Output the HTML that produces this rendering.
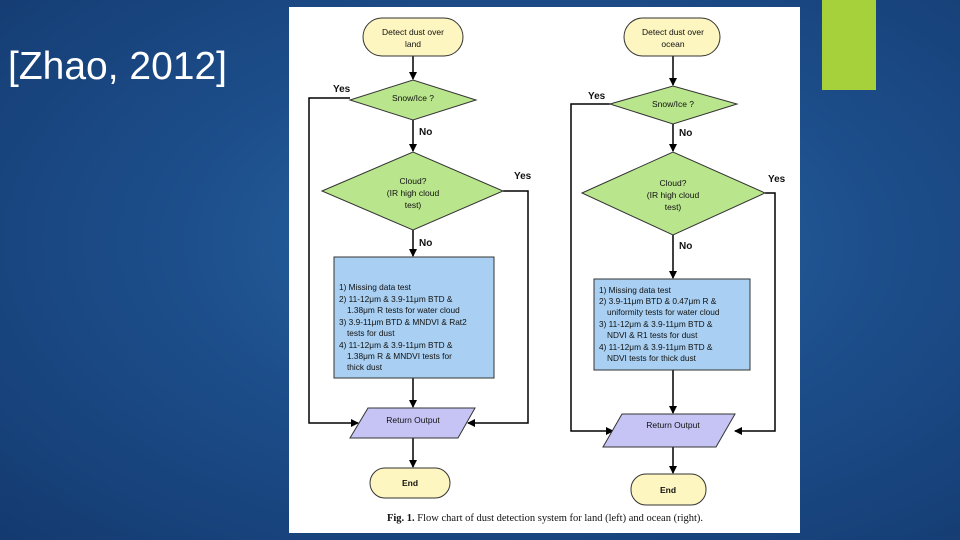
<!DOCTYPE html>
<html><head><meta charset="utf-8"><style>
html,body{margin:0;padding:0}
body{width:960px;height:540px;overflow:hidden;position:relative;
background:radial-gradient(ellipse at 55% 45%,#2a6aa8 0%,#1d4f8c 45%,#143a70 100%);font-family:"Liberation Sans",sans-serif}
.t{position:absolute;left:8px;top:45px;color:#fff;font-size:39px}
.g{position:absolute;left:822px;top:0;width:54px;height:90px;background:#a6d13b}
</style></head><body>
<div class="t">[Zhao, 2012]</div>
<div class="g"></div>
<svg width="960" height="540" style="position:absolute;left:0;top:0" font-family="Liberation Sans, sans-serif">
<defs><marker id="a" markerWidth="8" markerHeight="8" refX="7" refY="4" orient="auto" markerUnits="userSpaceOnUse"><path d="M0,0 L8,4 L0,8z" fill="#000"/></marker></defs>
<rect x="289" y="7" width="511" height="526" fill="#fff"/>
<g stroke="#000" stroke-width="1.5" fill="none">
<line x1="413" y1="56" x2="413" y2="79" marker-end="url(#a)"/>
<line x1="413" y1="120" x2="413" y2="151" marker-end="url(#a)"/>
<line x1="413" y1="230" x2="413" y2="256" marker-end="url(#a)"/>
<line x1="413" y1="378" x2="413" y2="407" marker-end="url(#a)"/>
<line x1="413" y1="438" x2="413" y2="467" marker-end="url(#a)"/>
<polyline points="350,98 309,98 309,423 358,423" marker-end="url(#a)"/>
<polyline points="503,191 528,191 528,423 468,423" marker-end="url(#a)"/>
<line x1="673" y1="56" x2="673" y2="85" marker-end="url(#a)"/>
<line x1="673" y1="124" x2="673" y2="151" marker-end="url(#a)"/>
<line x1="673" y1="235" x2="673" y2="278" marker-end="url(#a)"/>
<line x1="673" y1="370" x2="673" y2="413" marker-end="url(#a)"/>
<line x1="673" y1="447" x2="673" y2="473" marker-end="url(#a)"/>
<polyline points="610,104 571,104 571,431 613,431" marker-end="url(#a)"/>
<polyline points="765,193 775,193 775,431 735,431" marker-end="url(#a)"/>
</g>
<g stroke="#333" stroke-width="1">
<rect x="363" y="18" width="100" height="38" rx="19" fill="#fdf6c0"/>
<polygon points="350,100 413,80 476,100 413,120" fill="#b9e58c"/>
<polygon points="322,191 413,152 503,191 413,230" fill="#b9e58c"/>
<rect x="334" y="257" width="160" height="121" fill="#a9d0f2"/>
<polygon points="368,408 475,408 458,438 350,438" fill="#c6c4f4"/>
<rect x="370" y="468" width="80" height="30" rx="15" fill="#fdf6c0"/>
<rect x="624" y="18" width="96" height="38" rx="19" fill="#fdf6c0"/>
<polygon points="610,104 673,86 737,104 673,124" fill="#b9e58c"/>
<polygon points="582,193 673,152 765,193 673,235" fill="#b9e58c"/>
<rect x="594" y="279" width="156" height="91" fill="#a9d0f2"/>
<polygon points="622,414 735,414 716,447 603,447" fill="#c6c4f4"/>
<rect x="631" y="474" width="75" height="31" rx="15" fill="#fdf6c0"/>
</g>
<g font-size="8.5" fill="#111" text-anchor="middle">
<text x="413" y="35">Detect dust over</text><text x="413" y="47">land</text>
<text x="413" y="101">Snow/Ice ?</text>
<text x="413" y="184">Cloud?</text><text x="413" y="196">(IR high cloud</text><text x="413" y="208">test)</text>
<text x="413" y="423">Return Output</text>
<text x="410" y="486" font-weight="bold">End</text>
<text x="673" y="35">Detect dust over</text><text x="673" y="47">ocean</text>
<text x="673" y="107">Snow/Ice ?</text>
<text x="673" y="186">Cloud?</text><text x="673" y="198">(IR high cloud</text><text x="673" y="210">test)</text>
<text x="673" y="428">Return Output</text>
<text x="668" y="493" font-weight="bold">End</text>
</g>
<g font-size="10" font-weight="bold" fill="#111">
<text x="333" y="92">Yes</text><text x="419" y="135">No</text><text x="514" y="179">Yes</text><text x="419" y="246">No</text>
<text x="588" y="99">Yes</text><text x="679" y="136">No</text><text x="768" y="182">Yes</text><text x="679" y="249">No</text>
</g>
<g font-size="8.3" fill="#111">
<text x="339" y="290">1) Missing data test</text>
<text x="339" y="302">2) 11-12μm &amp; 3.9-11μm BTD &amp;</text>
<text x="347" y="313">1.38μm R tests for water cloud</text>
<text x="339" y="325">3) 3.9-11μm BTD &amp; MNDVI &amp; Rat2</text>
<text x="347" y="336">tests for dust</text>
<text x="339" y="348">4) 11-12μm &amp; 3.9-11μm BTD &amp;</text>
<text x="347" y="359">1.38μm R &amp; MNDVI tests for</text>
<text x="347" y="370">thick dust</text>
<text x="599" y="293">1) Missing data test</text>
<text x="599" y="304">2) 3.9-11μm BTD &amp; 0.47μm R &amp;</text>
<text x="607" y="315">uniformity tests for water cloud</text>
<text x="599" y="327">3) 11-12μm &amp; 3.9-11μm BTD &amp;</text>
<text x="607" y="338">NDVI &amp; R1 tests for dust</text>
<text x="599" y="350">4) 11-12μm &amp; 3.9-11μm BTD &amp;</text>
<text x="607" y="361">NDVI tests for thick dust</text>
</g>
<text x="545" y="521" font-size="10.5" font-family="Liberation Serif, serif" text-anchor="middle" fill="#111"><tspan font-weight="bold">Fig. 1.</tspan> Flow chart of dust detection system for land (left) and ocean (right).</text>
</svg>
</body></html>
